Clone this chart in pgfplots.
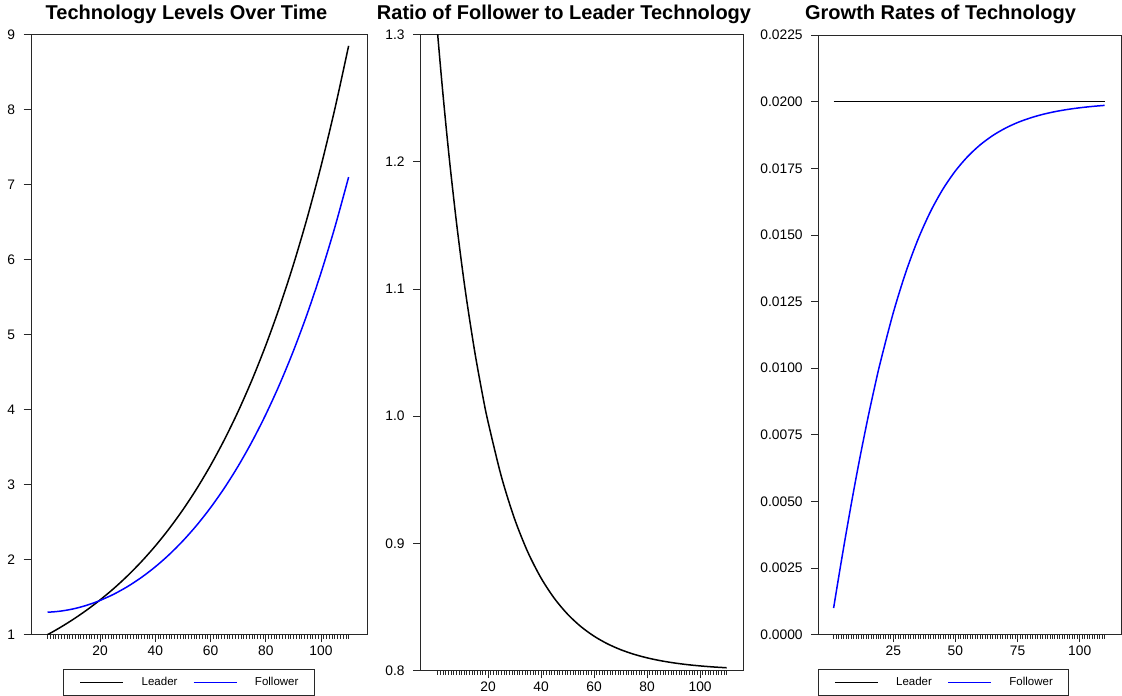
\documentclass[border=0pt]{standalone}
\usepackage{pgfplots}
\pgfplotsset{compat=1.18}
\usepackage{pgfplotstable}
\usepackage{fontspec}
\setmainfont{Liberation Sans}
\definecolor{fblue}{RGB}{0,0,255}
\definecolor{frame}{RGB}{40,40,40}

\pgfplotstableread{
t L F r gF
1 1.00000 1.30000 1.30000 0.001000
2 1.02020 1.30167 1.27590 0.001574
3 1.04081 1.30409 1.25296 0.002141
4 1.06184 1.30726 1.23113 0.002701
5 1.08329 1.31116 1.21035 0.003252
6 1.10517 1.31578 1.19057 0.003794
8 1.15027 1.32722 1.15383 0.004851
10 1.19722 1.34153 1.12054 0.005869
12 1.24608 1.35870 1.09038 0.006844
15 1.32313 1.38980 1.05039 0.008224
18 1.40495 1.42729 1.01590 0.009502
20 1.46228 1.45583 0.99559 0.010295
25 1.61607 1.53976 0.95278 0.012079
30 1.78604 1.64198 0.91934 0.013587
35 1.97388 1.76311 0.89322 0.014844
40 2.18147 1.90403 0.87282 0.015879
45 2.41090 2.06585 0.85688 0.016721
50 2.66446 2.24995 0.84443 0.017401
55 2.94468 2.45795 0.83471 0.017946
60 3.25437 2.69173 0.82711 0.018381
65 3.59664 2.95349 0.82118 0.018726
70 3.97490 3.24570 0.81655 0.018999
75 4.39294 3.57116 0.81293 0.019215
80 4.85495 3.93300 0.81010 0.019384
85 5.36556 4.33478 0.80789 0.019518
90 5.92986 4.78042 0.80616 0.019623
95 6.55350 5.27432 0.80481 0.019705
100 7.24274 5.82143 0.80376 0.019769
105 8.00447 6.42711 0.80294 0.019819
110 8.84631 7.09739 0.80230 0.019859
}\data

\pgfplotsset{
  rstyle/.style={
    scale only axis,
    anchor=south west,
    axis line style={frame, line width=0.8pt},
    tick style={frame, line width=0.7pt},
    tick align=outside,
    tick pos=left,
    major tick length=7.5pt,
    minor tick length=4pt,
    minor xtick={1,2,...,110},
    ticklabel style={font=\fontsize{13.8}{16}\selectfont},
    yticklabel style={xshift=-5pt},
    /pgf/number format/assume math mode=true,
    scaled ticks=false,
    legend columns=2,
    legend image code/.code={\draw[##1] (0pt,0pt) -- (43pt,0pt);},
    legend style={anchor=north west, draw=frame, line width=0.8pt,
      inner xsep=16pt, inner ysep=7.5pt,
      font=\fontsize{11.5}{13}\selectfont,
      nodes={inner sep=0pt, text height=8.5pt, text depth=2.5pt},
      /tikz/every odd column/.append style={column sep=17.5pt},
      /tikz/every even column/.append style={column sep=15.5pt}},
  }
}

\begin{document}
\begin{tikzpicture}
\useasboundingbox (0pt,0pt) rectangle (1122pt,696pt);

\node[font=\bfseries\fontsize{20}{24}\selectfont, anchor=base] at (186.5pt,676pt) {Technology Levels Over Time};
\node[font=\bfseries\fontsize{20}{24}\selectfont, anchor=base] at (564pt,676pt) {Ratio of Follower to Leader Technology};
\node[font=\bfseries\fontsize{20}{24}\selectfont, anchor=base] at (940.5pt,676pt) {Growth Rates of Technology};

% Panel 1
\begin{axis}[rstyle,
  at={(31pt,61.3pt)}, width=336.3pt, height=600.4pt,
  xmin=-4.98, xmax=116.76, ymin=1, ymax=9,
  xtick={20,40,60,80,100},
  ytick={1,2,3,4,5,6,7,8,9},
  legend style={at={(0.096,-0.0576)}},
]
\addplot[black, line width=1.5pt, smooth] table[x=t, y=L] {\data};
\addlegendentry{Leader}
\addplot[fblue, line width=1.5pt, smooth] table[x=t, y=F] {\data};
\addlegendentry{Follower}
\end{axis}

% Panel 2
\begin{axis}[rstyle,
  at={(420.7pt,25.3pt)}, width=322.6pt, height=636.4pt,
  xmin=-5.4, xmax=116.3, ymin=0.8, ymax=1.3,
  xtick={20,40,60,80,100},
  ytick={0.8,0.9,1.0,1.1,1.2,1.3},
  yticklabel style={/pgf/number format/.cd, fixed, fixed zerofill, precision=1},
]
\addplot[black, line width=1.5pt, smooth] table[x=t, y=r] {\data};
\end{axis}

% Panel 3
\begin{axis}[rstyle,
  at={(818.7pt,61.3pt)}, width=302.5pt, height=599.7pt,
  xmin=-5, xmax=116.7, ymin=0, ymax=0.0225,
  xtick={25,50,75,100},
  ytick={0,0.0025,0.005,0.0075,0.01,0.0125,0.015,0.0175,0.02,0.0225},
  yticklabel style={/pgf/number format/.cd, fixed, fixed zerofill, precision=4},
  legend style={at={(-0.0033,-0.0577)}},
]
\addplot[black, line width=1.5pt] coordinates {(1,0.02) (110,0.02)};
\addlegendentry{Leader}
\addplot[fblue, line width=1.5pt, smooth] table[x=t, y=gF] {\data};
\addlegendentry{Follower}
\end{axis}
\end{tikzpicture}
\end{document}
